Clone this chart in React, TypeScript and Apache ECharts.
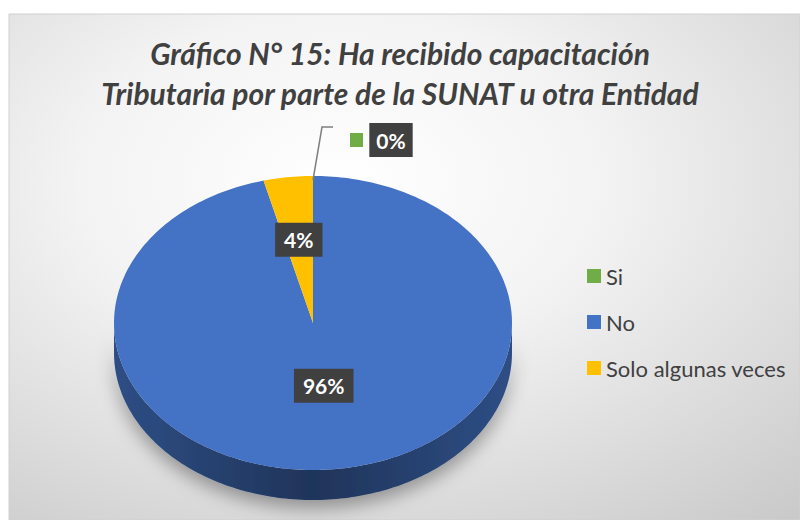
import React, { useEffect, useRef } from 'react';
import * as echarts from 'echarts';

const titleLines = [
  'Gráfico N° 15: Ha recibido capacitación',
  'Tributaria por parte de la SUNAT u otra Entidad',
];
const categories = ['Si', 'No', 'Solo algunas veces'];
const values = [0, 96, 4];
const percentLabels = ['0%', '96%', '4%'];
const colors = ['#70AD47', '#4472C4', '#FFC000'];

// layout constants (not data)
const CX = 313;
const CY = 323;
const RX = 199;
const RY = 147;
const DEPTH = 30;
const LABEL_RADIUS = [0, 0.43, 0.57];
const FONT = 'Lato, "Open Sans", sans-serif';

const pt = (a: number, dy = 0): number[] => [CX + RX * Math.cos(a), CY + RY * Math.sin(a) + dy];

const arcPoints = (a0: number, a1: number, dy = 0): number[][] => {
  const n = Math.max(2, Math.ceil(Math.abs(a1 - a0) / 0.02));
  const out: number[][] = [];
  for (let i = 0; i <= n; i++) out.push(pt(a0 + ((a1 - a0) * i) / n, dy));
  return out;
};

const darken = (c: string, k: number): string => {
  const p = echarts.color.parse(c) as number[];
  return `rgb(${Math.round(p[0] * k)},${Math.round(p[1] * k)},${Math.round(p[2] * k)})`;
};

export default function App() {
  const ref = useRef<HTMLDivElement>(null);
  useEffect(() => {
    document.body.style.margin = '0';
    if (!ref.current) return;
    const chart = echarts.init(ref.current, undefined, { renderer: 'svg' });
    const total = values.reduce((s, v) => s + v, 0);

    const labelStyle = {
      align: 'center',
      verticalAlign: 'middle',
      fill: '#ffffff',
      font: `bold 21px ${FONT}`,
      backgroundColor: '#404040',
      boxShadowBlur: 5,
      boxShadowColor: 'rgba(0,0,0,0.35)',
      boxShadowOffsetX: 2,
      boxShadowOffsetY: 3,
    };

    const renderItem = (params: any, api: any) => {
      const idx = params.dataIndex;
      const v = api.value(0) as number;
      let cum = 0;
      for (let i = 0; i < idx; i++) cum += values[i];
      const a0 = -Math.PI / 2 + (2 * Math.PI * cum) / total;
      const a1 = a0 + (2 * Math.PI * v) / total;
      const color = colors[idx];
      const children: any[] = [];
      if (v > 0) {
        // visible side (front half of the ellipse)
        for (let k = -1; k <= 1; k++) {
          const s = Math.max(a0, k * 2 * Math.PI);
          const e = Math.min(a1, k * 2 * Math.PI + Math.PI);
          if (e > s) {
            const top = arcPoints(s, e, 0);
            const bottom = arcPoints(e, s, DEPTH);
            children.push({
              type: 'polygon',
              z2: 1,
              shape: { points: top.concat(bottom) },
              style: {
                fill: new echarts.graphic.LinearGradient(0, 0, 1, 0, [
                  { offset: 0, color: darken(color, 0.68) },
                  { offset: 0.5, color: darken(color, 0.46) },
                  { offset: 1, color: darken(color, 0.68) },
                ]),
                shadowBlur: 18,
                shadowColor: 'rgba(0,0,0,0.35)',
                shadowOffsetY: 8,
              },
            });
          }
        }
        children.push({
          type: 'polygon',
          z2: 10,
          shape: { points: [[CX, CY]].concat(arcPoints(a0, a1, 0)) },
          style: { fill: color },
        });
        const mid = (a0 + a1) / 2;
        const f = LABEL_RADIUS[idx];
        children.push({
          type: 'text',
          z2: 20,
          style: {
            ...labelStyle,
            text: percentLabels[idx],
            x: CX + RX * f * Math.cos(mid),
            y: CY + RY * f * Math.sin(mid),
            padding: [7, 9, 6, 9],
          },
        });
      } else {
        const [ax, ay] = pt(a0);
        children.push({
          type: 'polyline',
          z2: 15,
          shape: { points: [[ax, ay + 4], [ax + 9, ay - 49], [ax + 20, ay - 49]] },
          style: { stroke: '#7f7f7f', lineWidth: 1.5, fill: null },
        });
        children.push({
          type: 'rect',
          z2: 20,
          shape: { x: ax + 37, y: ay - 43, width: 13, height: 14 },
          style: { fill: color },
        });
        children.push({
          type: 'text',
          z2: 20,
          style: {
            ...labelStyle,
            text: percentLabels[idx],
            x: ax + 78,
            y: ay - 36,
            padding: [7, 7, 6, 7],
          },
        });
      }
      return { type: 'group', children };
    };

    const option: any = {
      animation: false,
      graphic: [
        {
          type: 'rect',
          z: -10,
          silent: true,
          shape: { x: 9, y: 14, width: 791, height: 506 },
          style: {
            fill: new echarts.graphic.RadialGradient(0.42, 0.33, 0.95, [
              { offset: 0, color: '#ffffff' },
              { offset: 0.35, color: '#f3f3f3' },
              { offset: 0.75, color: '#d6d6d6' },
              { offset: 1, color: '#c4c4c4' },
            ]),
            stroke: '#d0d0d0',
            lineWidth: 1,
          },
        },
      ],
      title: {
        text: titleLines.join('\n'),
        left: 'center',
        top: 28,
        textStyle: {
          fontFamily: FONT,
          fontSize: 30,
          fontWeight: 'bold',
          fontStyle: 'italic',
          color: '#404040',
          lineHeight: 40,
        },
      },
      legend: {
        orient: 'vertical',
        left: 582,
        top: 260,
        icon: 'rect',
        itemWidth: 14,
        itemHeight: 14,
        itemGap: 24,
        selectedMode: false,
        textStyle: { fontFamily: FONT, fontSize: 22, color: '#404040' },
        data: categories,
      },
      series: [
        {
          type: 'custom',
          name: 'Capacitación',
          coordinateSystem: 'none',
          data: values.map((v, i) => ({ name: categories[i], value: v })),
          renderItem,
        },
        ...categories.map((c, i) => ({
          type: 'custom',
          name: c,
          coordinateSystem: 'none',
          data: [],
          itemStyle: { color: colors[i] },
          renderItem: () => null,
        })),
      ],
    };
    chart.setOption(option);
    return () => chart.dispose();
  }, []);
  return <div ref={ref} style={{ width: 800, height: 520 }} />;
}
